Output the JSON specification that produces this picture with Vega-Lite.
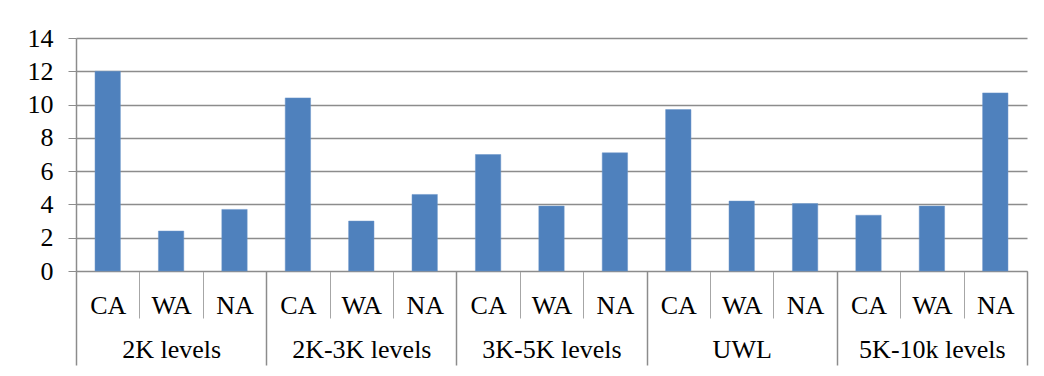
{
  "$schema": "https://vega.github.io/schema/vega-lite/v6.json",
  "autosize": "none",
  "width": 951,
  "height": 233,
  "padding": {"left": 76, "top": 38, "right": 17, "bottom": 105},
  "background": "white",
  "config": {
    "view": {"stroke": null},
    "font": "Times New Roman",
    "axis": {
      "labelFont": "Times New Roman",
      "labelFontSize": 26,
      "labelColor": "black",
      "domainColor": "#8c8c8c",
      "tickColor": "#8c8c8c",
      "gridColor": "#8c8c8c",
      "title": null
    }
  },
  "data": {
    "values": [
      {"key": "2K levels|CA", "group": "2K levels", "area": "CA", "value": 12.0},
      {"key": "2K levels|WA", "group": "2K levels", "area": "WA", "value": 2.4},
      {"key": "2K levels|NA", "group": "2K levels", "area": "NA", "value": 3.7},
      {"key": "2K-3K levels|CA", "group": "2K-3K levels", "area": "CA", "value": 10.4},
      {"key": "2K-3K levels|WA", "group": "2K-3K levels", "area": "WA", "value": 3.0},
      {"key": "2K-3K levels|NA", "group": "2K-3K levels", "area": "NA", "value": 4.6},
      {"key": "3K-5K levels|CA", "group": "3K-5K levels", "area": "CA", "value": 7.0},
      {"key": "3K-5K levels|WA", "group": "3K-5K levels", "area": "WA", "value": 3.9},
      {"key": "3K-5K levels|NA", "group": "3K-5K levels", "area": "NA", "value": 7.1},
      {"key": "UWL|CA", "group": "UWL", "area": "CA", "value": 9.7},
      {"key": "UWL|WA", "group": "UWL", "area": "WA", "value": 4.2},
      {"key": "UWL|NA", "group": "UWL", "area": "NA", "value": 4.05},
      {"key": "5K-10k levels|CA", "group": "5K-10k levels", "area": "CA", "value": 3.35},
      {"key": "5K-10k levels|WA", "group": "5K-10k levels", "area": "WA", "value": 3.9},
      {"key": "5K-10k levels|NA", "group": "5K-10k levels", "area": "NA", "value": 10.7}
    ]
  },
  "layer": [
    {
      "mark": {"type": "bar", "color": "#4F81BD", "stroke": "#6a95c8", "strokeWidth": 0.5, "width": {"band": 0.4}},
      "encoding": {
        "x": {
          "field": "key",
          "type": "nominal",
          "sort": null,
          "scale": {"paddingInner": 0, "paddingOuter": 0},
          "axis": {
            "labelExpr": "split(datum.value, '|')[1]",
            "labelAngle": 0,
            "tickBand": "extent",
            "tickSize": 47,
            "tickColor": "#a6a6a6",
            "labelPadding": -26,
            "domainColor": "#8c8c8c"
          }
        },
        "y": {
          "field": "value",
          "type": "quantitative",
          "scale": {"domain": [0, 14], "nice": false},
          "axis": {
            "values": [0, 2, 4, 6, 8, 10, 12, 14],
            "tickSize": 8,
            "labelPadding": 15,
            "grid": true,
            "gridWidth": 1.5,
            "domainWidth": 1.5
          }
        }
      }
    },
    {
      "mark": {"type": "tick", "opacity": 0},
      "encoding": {
        "x": {
          "field": "group",
          "type": "nominal",
          "sort": null,
          "scale": {"paddingInner": 0, "paddingOuter": 0},
          "axis": {
            "orient": "bottom",
            "labelAngle": 0,
            "domain": false,
            "tickBand": "extent",
            "tickSize": 94,
            "tickColor": "#8c8c8c",
            "tickWidth": 1.5,
            "labelPadding": -29
          }
        }
      }
    }
  ],
  "resolve": {"scale": {"x": "independent"}}
}
